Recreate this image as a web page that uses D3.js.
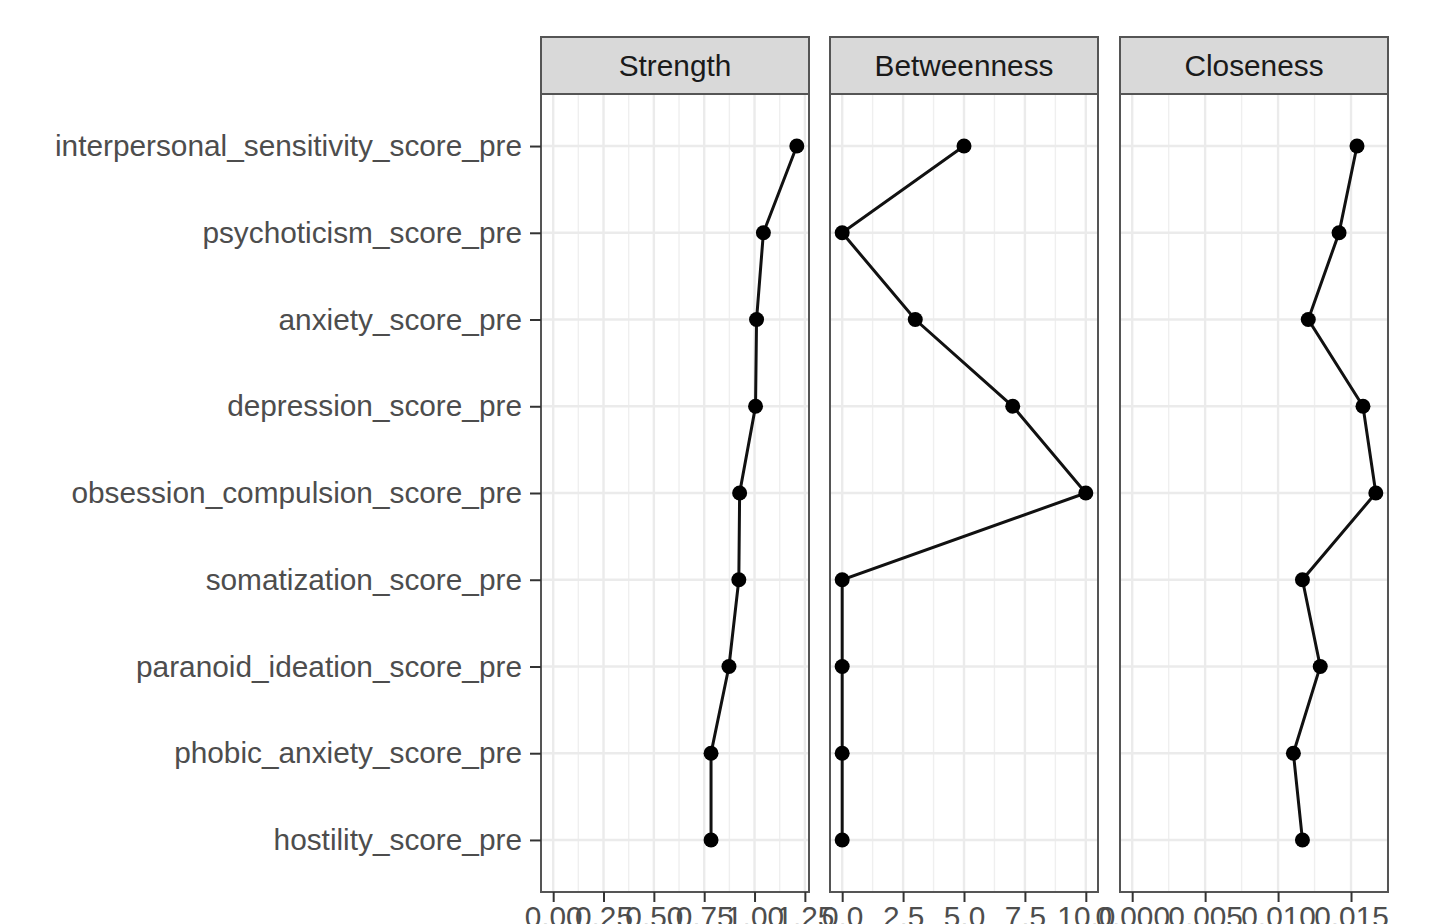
<!DOCTYPE html>
<html>
<head>
<meta charset="utf-8">
<script src="https://cdn.jsdelivr.net/npm/d3@7"></script>
<style>
  html, body { margin: 0; padding: 0; background: #ffffff; }
  svg { display: block; font-family: "Liberation Sans", Arial, Helvetica, sans-serif; }
</style>
</head>
<body>
<svg id="chart" width="1439" height="924"></svg>
<script>
// Node names, top to bottom
const nodes = [
  "interpersonal_sensitivity_score_pre",
  "psychoticism_score_pre",
  "anxiety_score_pre",
  "depression_score_pre",
  "obsession_compulsion_score_pre",
  "somatization_score_pre",
  "paranoid_ideation_score_pre",
  "phobic_anxiety_score_pre",
  "hostility_score_pre"
];

// Centrality indices per node
const strength    = [1.210, 1.044, 1.010, 1.005, 0.926, 0.922, 0.873, 0.784, 0.784];
const betweenness = [5, 0, 3, 7, 10, 0, 0, 0, 0];
const closeness   = [0.01541, 0.01418, 0.01207, 0.01582, 0.01670, 0.01167, 0.01289, 0.01105, 0.01167];

const measures = ["Strength", "Betweenness", "Closeness"];
const seriesValues = [strength, betweenness, closeness];

// Axis breaks and their labels per facet
const tickValues = [
  [0, 0.25, 0.5, 0.75, 1.0, 1.25],
  [0, 2.5, 5, 7.5, 10],
  [0, 0.005, 0.010, 0.015]
];
const tickFormats = [d3.format(".2f"), d3.format(".1f"), d3.format(".3f")];

const svg = d3.select("#chart");

const panelTop = 94, panelBottom = 892;
const stripTop = 37;
const panelLefts = [541, 830, 1120];
const panelW = 268;
const fontSize = 29.8;

// Discrete y scale with 0.6 unit padding at both ends
const y = d3.scalePoint().domain(nodes).range([panelTop, panelBottom]).padding(0.6);

measures.forEach((m, i) => {
  const vals = seriesValues[i];
  const lo = Math.min(0, d3.min(vals)), hi = d3.max(vals);
  const pad = (hi - lo) * 0.05;
  const x = d3.scaleLinear().domain([lo - pad, hi + pad]).range([panelLefts[i], panelLefts[i] + panelW]);
  const g = svg.append("g");
  const L = panelLefts[i], R = L + panelW;

  // minor grid at midpoints between breaks
  const br = tickValues[i];
  const step = br[1] - br[0];
  const minors = [];
  for (let k = -1; k < br.length; k++) {
    const v = br[0] + step * (k + 0.5);
    if (v >= x.domain()[0] && v <= x.domain()[1]) minors.push(v);
  }
  g.selectAll(".minor").data(minors).enter().append("line")
    .attr("x1", d => x(d)).attr("x2", d => x(d))
    .attr("y1", panelTop).attr("y2", panelBottom)
    .attr("stroke", "#efefef").attr("stroke-width", 1.4);

  g.selectAll(".majorx").data(br).enter().append("line")
    .attr("x1", d => x(d)).attr("x2", d => x(d))
    .attr("y1", panelTop).attr("y2", panelBottom)
    .attr("stroke", "#ebebeb").attr("stroke-width", 2.4);

  g.selectAll(".majory").data(nodes).enter().append("line")
    .attr("x1", L).attr("x2", R)
    .attr("y1", d => y(d)).attr("y2", d => y(d))
    .attr("stroke", "#ebebeb").attr("stroke-width", 2.4);

  // connecting line and points
  const pts = nodes.map((n, j) => ({ n, v: vals[j] }));
  g.append("path")
    .datum(pts)
    .attr("fill", "none")
    .attr("stroke", "#111")
    .attr("stroke-width", 3)
    .attr("d", d3.line().x(d => x(d.v)).y(d => y(d.n)));
  g.selectAll(".pt").data(pts).enter().append("circle")
    .attr("cx", d => x(d.v)).attr("cy", d => y(d.n))
    .attr("r", 7.5).attr("fill", "#000");

  // panel border
  g.append("rect")
    .attr("x", L).attr("y", panelTop).attr("width", panelW).attr("height", panelBottom - panelTop)
    .attr("fill", "none").attr("stroke", "#555").attr("stroke-width", 2);

  // strip
  g.append("rect")
    .attr("x", L).attr("y", stripTop).attr("width", panelW).attr("height", panelTop - stripTop)
    .attr("fill", "#d9d9d9").attr("stroke", "#555").attr("stroke-width", 2);
  g.append("text")
    .attr("x", (L + R) / 2).attr("y", (stripTop + panelTop) / 2)
    .attr("text-anchor", "middle").attr("dominant-baseline", "central")
    .attr("font-size", fontSize).attr("fill", "#1a1a1a")
    .text(m);

  // bottom axis
  const ax = d3.axisBottom(x).tickValues(br).tickFormat(tickFormats[i]).tickSize(10).tickPadding(4);
  const axg = svg.append("g").attr("transform", `translate(0,${panelBottom})`).call(ax);
  axg.select(".domain").remove();
  axg.selectAll(".tick line").attr("stroke", "#333").attr("stroke-width", 2);
  axg.selectAll(".tick text").attr("font-size", fontSize).attr("fill", "#4d4d4d")
    .attr("font-family", "Liberation Sans, Arial, sans-serif");
});

// left axis with node names
const ay = d3.axisLeft(y).tickSize(11).tickPadding(8);
const ayg = svg.append("g").attr("transform", `translate(${panelLefts[0]},0)`).call(ay);
ayg.select(".domain").remove();
ayg.selectAll(".tick line").attr("stroke", "#333").attr("stroke-width", 2);
ayg.selectAll(".tick text").attr("font-size", fontSize).attr("fill", "#4d4d4d")
  .attr("font-family", "Liberation Sans, Arial, sans-serif");
</script>
</body>
</html>
